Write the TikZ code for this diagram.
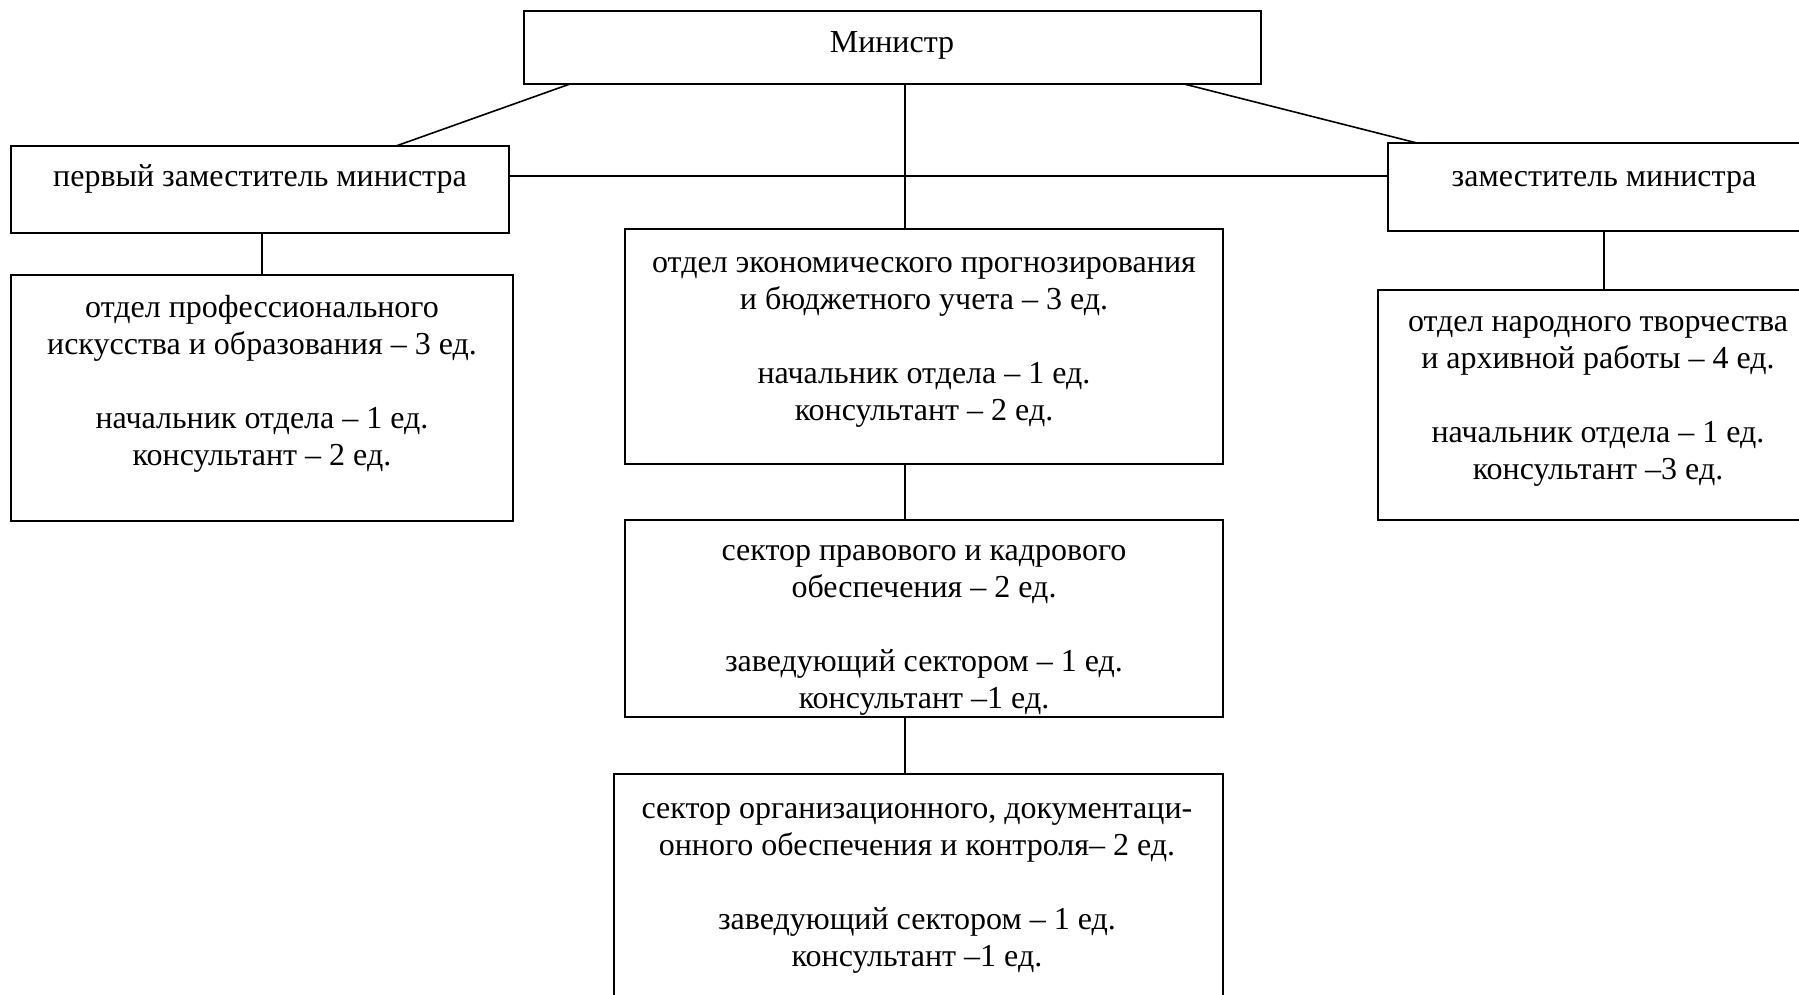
\documentclass[tikz,border=0pt]{standalone}
\usepackage{fontspec}
\setmainfont{Liberation Serif}
\usetikzlibrary{positioning,calc}

\begin{document}
\begin{tikzpicture}[x=0.5pt,y=-0.5pt,
	unit/.style={draw, line width=0.9pt, inner sep=0pt, outer sep=0pt},
	lbl/.style={font=\fontsize{16}{18.5}\selectfont, align=center, inner sep=0pt},
	link/.style={line width=0.8pt}]
\useasboundingbox (0,0) rectangle (1799,995);
% boxes
\node[unit, minimum width=368.5pt, minimum height=36.5pt] (min) at (892.5,47.5) {};
\node[unit, minimum width=249pt, minimum height=43.5pt] (dep1) at (260,189.5) {};
\node[unit, minimum width=211pt, minimum height=44pt] (zam) at (1599,187) {};
\node[unit, minimum width=251pt, minimum height=123pt] (prof) at (262,398) {};
\node[unit, minimum width=299pt, minimum height=117.5pt] (econ) at (924,346.5) {};
\node[unit, minimum width=299pt, minimum height=98.5pt] (legal) at (924,618.5) {};
\node[unit, minimum width=304.5pt, minimum height=118pt] (org) at (918.5,892) {};
\node[unit, minimum width=216pt, minimum height=115pt] (folk) at (1594,405) {};
% texts
\node[lbl] (mintxt) at (892,45.5) {Министр};
\node[lbl] (dep1txt) at (260,178.5) {первый заместитель министра};
\node[lbl] (zamtxt) at (1604,182) {заместитель министра};
\node[lbl] (proftxt) at (262,384) {отдел профессионального\\искусства и образования – 3 ед.\\[18.5pt]начальник отдела – 1 ед.\\консультант – 2 ед.};
\node[lbl] (econtxt) at (924,342.5) {отдел экономического прогнозирования\\и бюджетного учета – 3 ед.\\[18.5pt]начальник отдела – 1 ед.\\консультант – 2 ед.};
\node[lbl] (legaltxt) at (924,630.5) {сектор правового и кадрового\\обеспечения – 2 ед.\\[18.5pt]заведующий сектором – 1 ед.\\консультант –1 ед.};
\node[lbl] (orgtxt) at (917,888) {сектор организационного, документаци-\\онного обеспечения и контроля– 2 ед.\\[18.5pt]заведующий сектором – 1 ед.\\консультант –1 ед.};
\node[lbl] (folktxt) at (1598,401.5) {отдел народного творчества\\и архивной работы – 4 ед.\\[18.5pt]начальник отдела – 1 ед.\\консультант –3 ед.};
% connectors
\coordinate (axis) at (905,0);
\coordinate (bar) at (0,176);
\draw[link] (min.south -| axis) -- (econ.north -| axis);
\draw[link] ($(min.south west)+(46,0)$) -- ($(dep1.north west)+(385,0)$);
\draw[link] ($(min.south east)+(-77,0)$) -- ($(zam.north west)+(29,0)$);
\draw[link] (dep1.east |- bar) -- (zam.west |- bar);
\draw[link] (prof.north) -- (prof.north |- dep1.south);
\draw[link] (zam.south -| zamtxt) -- (folk.north -| zamtxt);
\draw[link] (econ.south -| axis) -- (legal.north -| axis);
\draw[link] (legal.south -| axis) -- (org.north -| axis);
\end{tikzpicture}
\end{document}
